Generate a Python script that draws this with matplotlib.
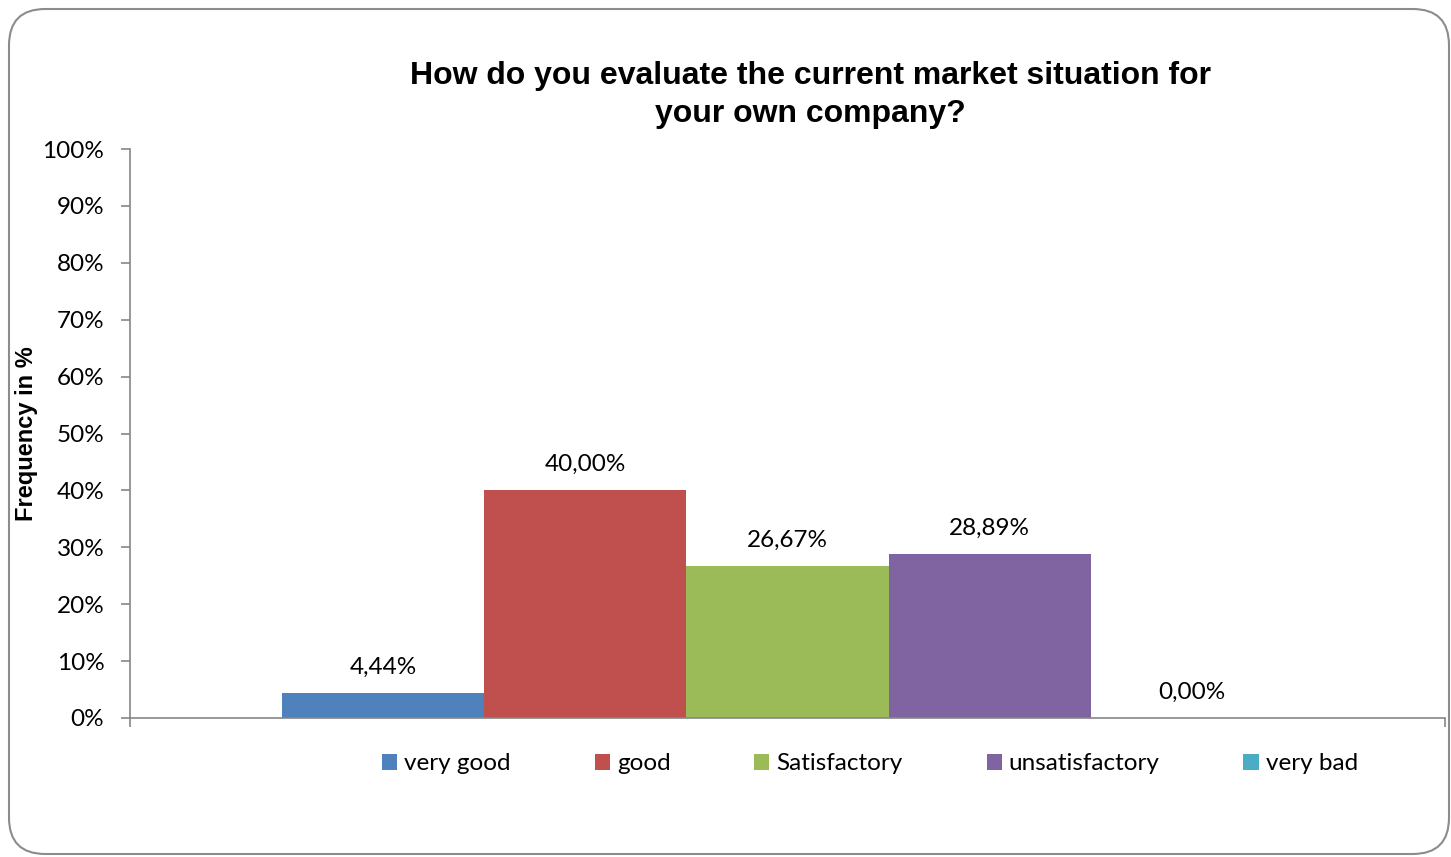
import matplotlib.pyplot as plt
from matplotlib.patches import FancyBboxPatch

# ---- data ----
categories = ["very good", "good", "Satisfactory", "unsatisfactory", "very bad"]
values = [4.44, 40.00, 26.67, 28.89, 0.00]
colors = ["#4F81BD", "#C0504D", "#9BBB59", "#8064A2", "#4BACC6"]
y_ticks = [0, 10, 20, 30, 40, 50, 60, 70, 80, 90, 100]

TITLE = "How do you evaluate the current market situation for\nyour own company?"
Y_LABEL = "Frequency in %"
AXIS_GRAY = "#868686"
FS = 17.5

W, H = 1451, 857
fig = plt.figure(figsize=(W / 100, H / 100), dpi=100)
fig.patch.set_facecolor("white")

# rounded chart-area frame, kept behind the axes
frame = FancyBboxPatch((9 / W, 3 / H), 1440 / W, 845 / H,
                       boxstyle="round,pad=0,rounding_size=0.025",
                       transform=fig.transFigure, facecolor="white",
                       edgecolor="#8c8c8c", linewidth=1.5, mutation_aspect=W / H,
                       zorder=-10)
fig.patches.append(frame)

ax = fig.add_axes([130 / W, (H - 718) / H, 1315 / W, 569 / H])
ax.set_facecolor("none")

# one category, 5 series side by side, gap width 30%
group = 1 / 1.3
bw = group / len(values)
for i, (cat, v, c) in enumerate(zip(categories, values, colors)):
    x = (i - (len(values) - 1) / 2) * bw
    ax.bar(x, v, width=bw, color=c, label=cat, zorder=2)
    ax.annotate(f"{v:.2f}%".replace(".", ","), (x, v), xytext=(0, 18.5),
                textcoords="offset points", ha="center", va="center",
                fontsize=FS, family="Lato", color="black")

ax.set_xlim(-0.5, 0.5)
ax.set_ylim(0, 100)
ax.set_yticks(y_ticks)
ax.set_yticklabels([f"{t}%" for t in y_ticks], fontsize=FS, family="Lato")
ax.set_xticks([-0.5, 0.5])
ax.set_xticklabels(["", ""])
ax.tick_params(axis="both", direction="out", length=6.5, width=1.2, color=AXIS_GRAY)
ax.tick_params(axis="y", pad=12)

for s in ["top", "right"]:
    ax.spines[s].set_visible(False)
for s in ["left", "bottom"]:
    ax.spines[s].set_color(AXIS_GRAY)
    ax.spines[s].set_linewidth(1.2)

fig.text(810 / W, 1 - 95 / H, TITLE, ha="center", va="center",
         fontsize=23, fontweight="bold", family="Liberation Sans", linespacing=1.33)
fig.text(27 / W, 1 - 434 / H, Y_LABEL, rotation=90, ha="center", va="center",
         fontsize=17, fontweight="bold", family="Liberation Sans")

fig.legend(loc="center", bbox_to_anchor=(870 / W, 1 - 764 / H), ncol=5,
           frameon=False, prop={"family": "Lato", "size": FS},
           handlelength=0.62, handleheight=0.62, handletextpad=0.29,
           columnspacing=3.45)

fig.savefig("out.png", dpi=100, facecolor="white")
